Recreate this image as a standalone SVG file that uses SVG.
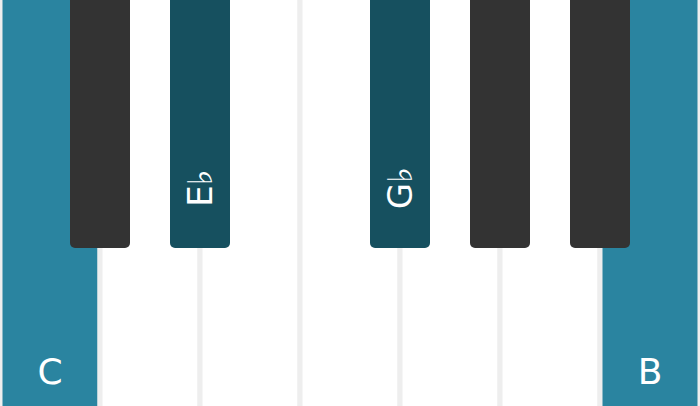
<svg xmlns="http://www.w3.org/2000/svg" width="700" height="406" viewBox="0 0 700 406">
<style>
.white{fill:#ffffff;stroke:#eeeeee;stroke-width:5}
.hl{fill:#2a84a0;stroke:#eeeeee;stroke-width:5}
.black{fill:#333333}
.hlb{fill:#16505f}
.lbl{font-family:"DejaVu Sans",sans-serif;fill:#ffffff;text-anchor:middle}
</style>
<g id="white-keys">
<g id="key-C"><rect class="hl" x="0" y="-10" width="100" height="426"/><text class="lbl" x="50" y="384" font-size="36">C</text></g>
<g id="key-D"><rect class="white" x="100" y="-10" width="100" height="426"/></g>
<g id="key-E"><rect class="white" x="200" y="-10" width="100" height="426"/></g>
<g id="key-F"><rect class="white" x="300" y="-10" width="100" height="426"/></g>
<g id="key-G"><rect class="white" x="400" y="-10" width="100" height="426"/></g>
<g id="key-A"><rect class="white" x="500" y="-10" width="100" height="426"/></g>
<g id="key-B"><rect class="hl" x="600" y="-10" width="100" height="426"/><text class="lbl" x="650" y="384" font-size="36">B</text></g>
</g>
<g id="black-keys">
<g id="key-Db"><rect class="black" x="70" y="-10" width="60" height="258" rx="5"/></g>
<g id="key-Eb"><rect class="hlb" x="170" y="-10" width="60" height="258" rx="5"/><text class="lbl" font-size="34" transform="translate(212,188) rotate(-90)">E♭</text></g>
<g id="key-Gb"><rect class="hlb" x="370" y="-10" width="60" height="258" rx="5"/><text class="lbl" font-size="34" transform="translate(412,188) rotate(-90)">G♭</text></g>
<g id="key-Ab"><rect class="black" x="470" y="-10" width="60" height="258" rx="5"/></g>
<g id="key-Bb"><rect class="black" x="570" y="-10" width="60" height="258" rx="5"/></g>
</g>
</svg>
